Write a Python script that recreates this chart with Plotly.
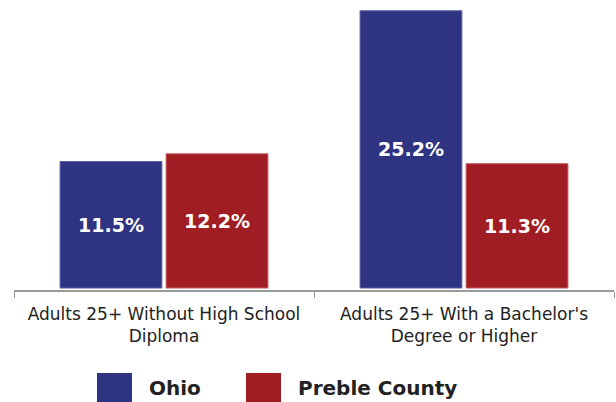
import plotly.graph_objects as go

categories = ["Adults 25+ Without High School<br>Diploma", "Adults 25+ With a Bachelor's<br>Degree or Higher"]
series_names = ["Ohio", "Preble County"]
ohio_values = [11.5, 25.2]
preble_values = [12.2, 11.3]
colors = ["#2E3482", "#A01E23"]
edge_colors = ["#5A62A8", "#C45A5E"]

W, H = 616, 402
ml, mr, mt, mb = 14, 2, 0, 112
pw, ph = W - ml - mr, H - mt - mb

fig = go.Figure()
for name, vals, col, ec in zip(series_names, [ohio_values, preble_values], colors, edge_colors):
    fig.add_trace(go.Bar(
        x=categories, y=vals, name=name,
        marker=dict(color=col, line=dict(color=ec, width=1)),
        text=[f"{v:.1f}%" for v in vals],
        textposition="inside", insidetextanchor="middle",
        textfont=dict(family="DejaVu Sans", size=19, color="white", weight="bold"),
        showlegend=False,
    ))

# custom legend (large square swatches)
leg_x_px = [97, 246]
for name, col, xp in zip(series_names, colors, leg_x_px):
    x0 = (xp - ml) / pw
    x1 = (xp + 35 - ml) / pw
    y0 = (ph - 373) / ph
    y1 = (ph - 412) / ph
    fig.add_shape(type="rect", xref="paper", yref="paper", x0=x0, x1=x1, y0=y0, y1=y1,
                  fillcolor=col, line=dict(width=0))
    fig.add_annotation(xref="paper", yref="paper", x=(xp + 50 - ml) / pw, y=(ph - 388) / ph,
                       text=f"<b>{name}</b>", showarrow=False, xanchor="left", yanchor="middle",
                       font=dict(family="DejaVu Sans", size=20, color="#222222"))

fig.update_layout(
    width=W, height=H,
    margin=dict(l=ml, r=mr, t=mt, b=mb, autoexpand=False),
    paper_bgcolor="white", plot_bgcolor="white",
    barmode="group", bargap=0.293, bargroupgap=0.04,
    xaxis=dict(showline=True, linecolor="#999999", linewidth=1.5,
               ticks="outside", tickson="boundaries", ticklen=6, tickcolor="#999999",
               ticklabelstandoff=8,
               tickfont=dict(family="DejaVu Sans", size=17, color="#222222"),
               showgrid=False),
    yaxis=dict(visible=False, range=[-0.18, 26.18], showgrid=False, zeroline=False),
)
fig.write_html("out.html", config={"displayModeBar": False},
               post_script="document.body.style.margin='0';document.body.style.overflow='hidden';")
